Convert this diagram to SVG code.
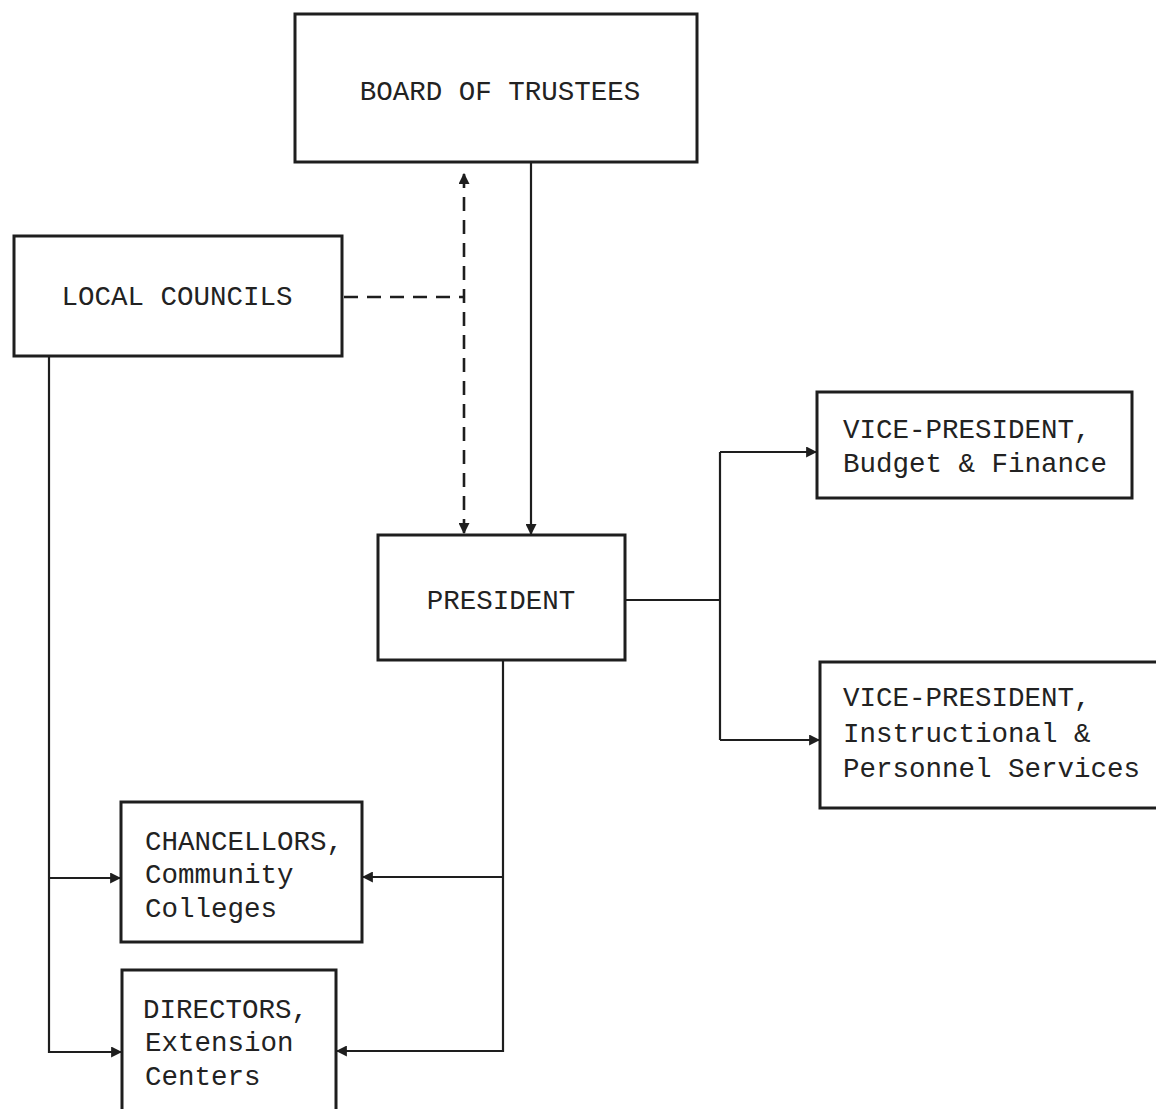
<svg xmlns="http://www.w3.org/2000/svg" width="1156" height="1109" viewBox="0 0 1156 1109">
<defs>
<marker id="arr" viewBox="0 0 10 10" refX="9" refY="5" markerWidth="11" markerHeight="11" markerUnits="userSpaceOnUse" orient="auto-start-reverse">
<path d="M0,0 L10,5 L0,10 z" fill="#1e1e1e"/>
</marker>
<style>
.box{fill:#fff;stroke:#1e1e1e;stroke-width:3}
.t{font-family:"Liberation Mono","Courier New",monospace;font-size:27.5px;fill:#222}
.c{text-anchor:middle}
.ln{fill:none;stroke:#1e1e1e;stroke-width:2.2}
.ds{fill:none;stroke:#1e1e1e;stroke-width:2.6;stroke-dasharray:14 9}
</style>
</defs>
<rect width="1156" height="1109" fill="#fff"/>
<g id="connectors">
<line class="ln" x1="531" y1="162" x2="531" y2="534" marker-end="url(#arr)"/>
<line class="ds" x1="464" y1="174" x2="464" y2="533" marker-start="url(#arr)" marker-end="url(#arr)"/>
<line class="ds" x1="344" y1="297" x2="464" y2="297"/>
<path class="ln" d="M625 600 H720"/>
<path class="ln" d="M720 452 V740"/>
<path class="ln" d="M720 452 H816" marker-end="url(#arr)"/>
<path class="ln" d="M720 740 H819" marker-end="url(#arr)"/>
<path class="ln" d="M49 356 V1052 H121" marker-end="url(#arr)"/>
<path class="ln" d="M49 878 H120" marker-end="url(#arr)"/>
<path class="ln" d="M503 660 V1051 H337" marker-end="url(#arr)"/>
<path class="ln" d="M503 877 H363" marker-end="url(#arr)"/>
</g>
<g id="board">
<rect class="box" x="295" y="14" width="402" height="148"/>
<text class="t c" x="500" y="100">BOARD OF TRUSTEES</text>
</g>
<g id="local-councils">
<rect class="box" x="14" y="236" width="328" height="120"/>
<text class="t c" x="177" y="305">LOCAL COUNCILS</text>
</g>
<g id="president">
<rect class="box" x="378" y="535" width="247" height="125"/>
<text class="t c" x="501" y="609">PRESIDENT</text>
</g>
<g id="vp-budget">
<rect class="box" x="817" y="392" width="315" height="106"/>
<text class="t" x="843" y="438">VICE-PRESIDENT,</text>
<text class="t" x="843" y="472">Budget &amp; Finance</text>
</g>
<g id="vp-instructional">
<rect class="box" x="820" y="662" width="345" height="146"/>
<text class="t" x="843" y="706">VICE-PRESIDENT,</text>
<text class="t" x="843" y="742">Instructional &amp;</text>
<text class="t" x="843" y="777">Personnel Services</text>
</g>
<g id="chancellors">
<rect class="box" x="121" y="802" width="241" height="140"/>
<text class="t" x="145" y="850">CHANCELLORS,</text>
<text class="t" x="145" y="883">Community</text>
<text class="t" x="145" y="917">Colleges</text>
</g>
<g id="directors">
<rect class="box" x="122" y="970" width="214" height="150"/>
<text class="t" x="143" y="1018">DIRECTORS,</text>
<text class="t" x="145" y="1051">Extension</text>
<text class="t" x="145" y="1085">Centers</text>
</g>
</svg>
